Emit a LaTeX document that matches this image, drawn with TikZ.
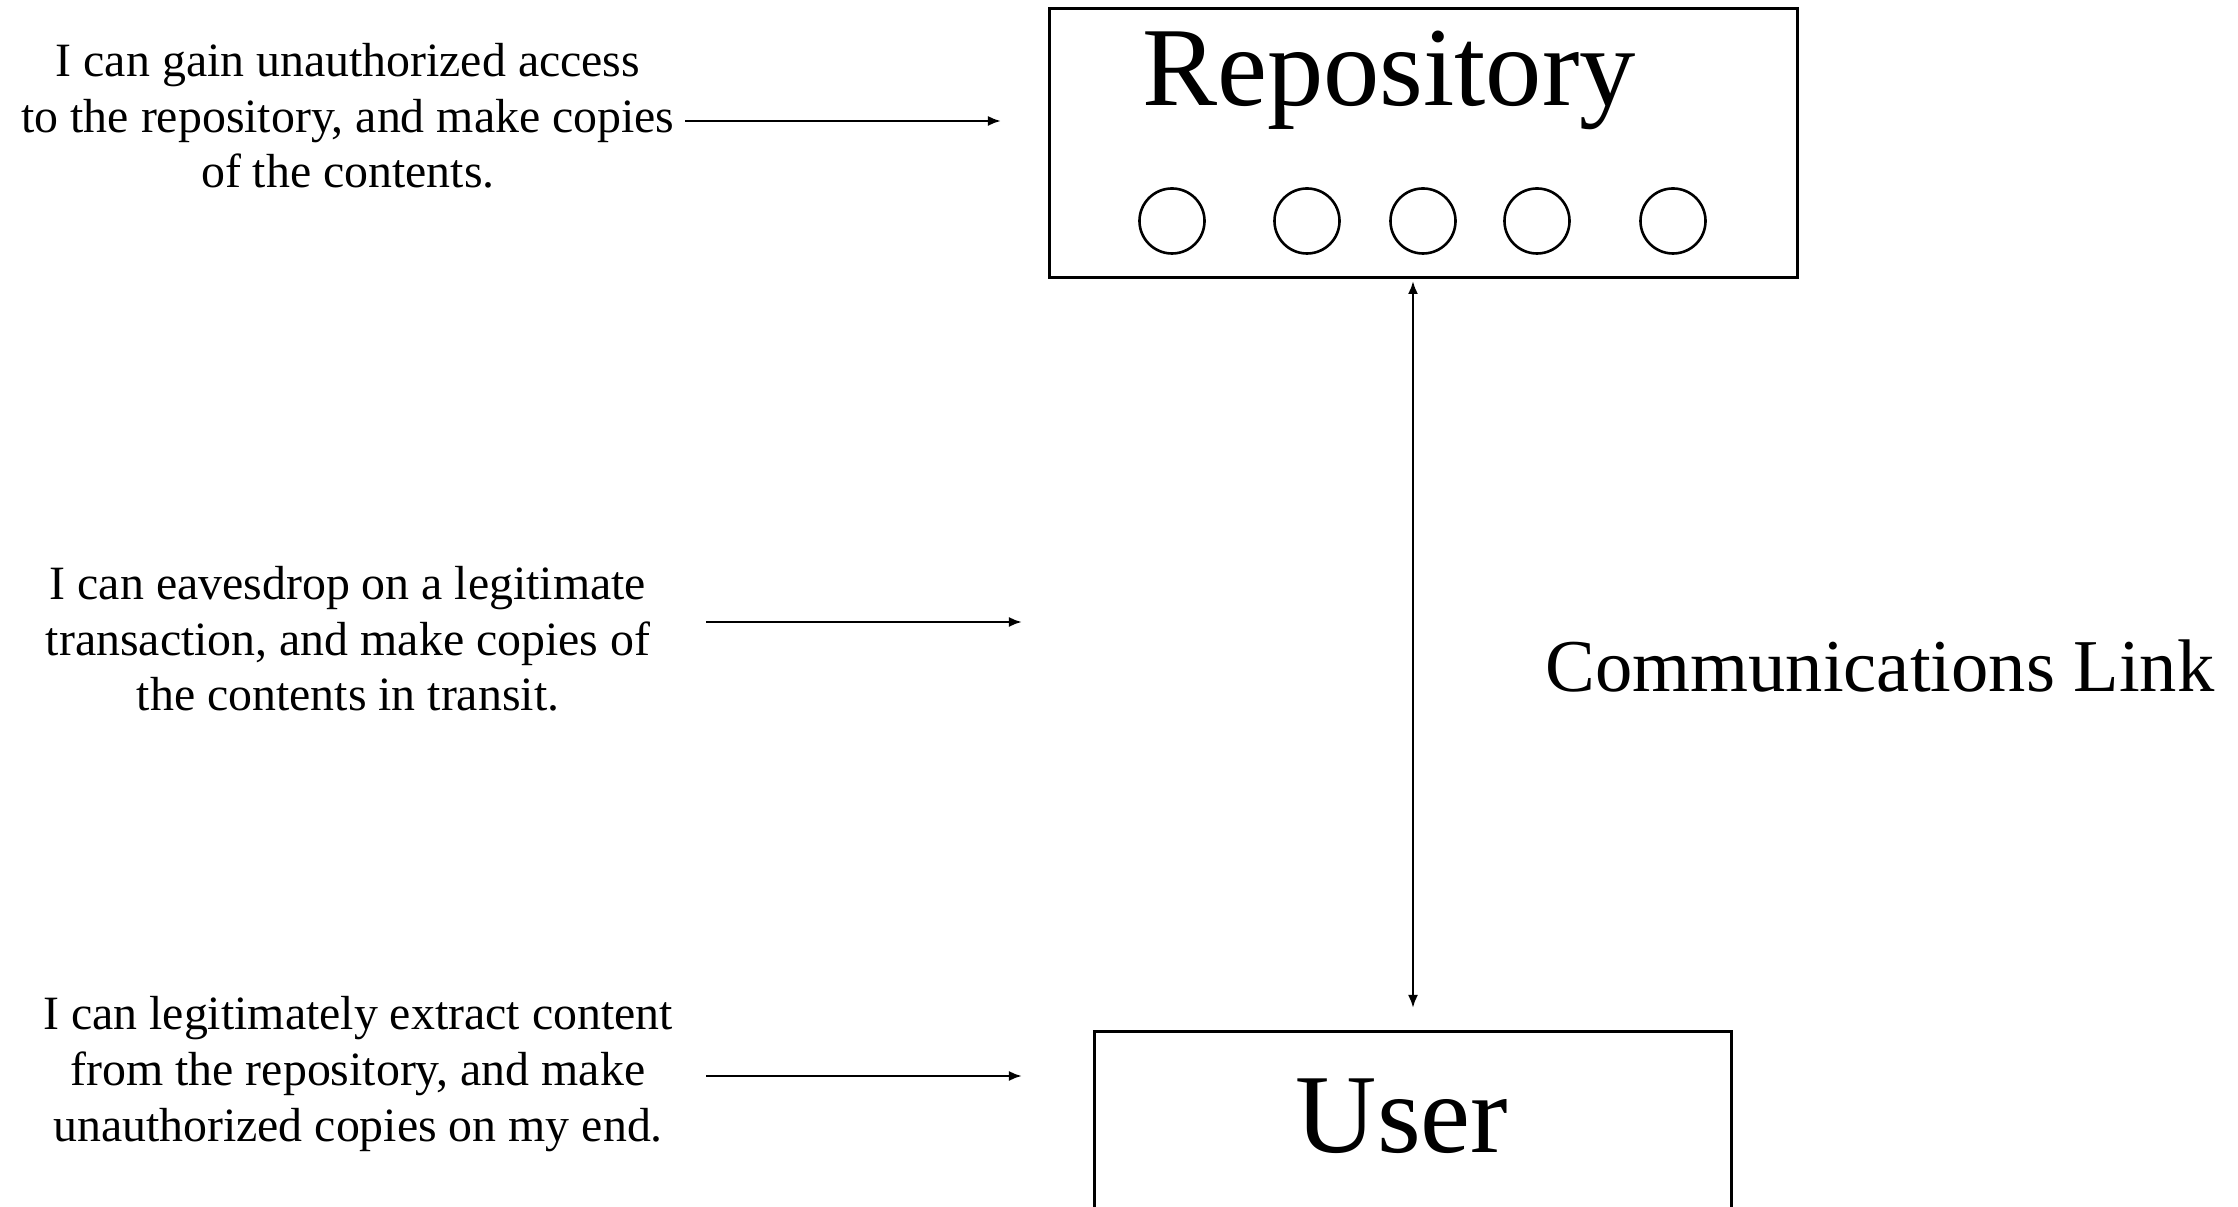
\documentclass[tikz,border=0pt]{standalone}
\usepackage{fontspec}
\setmainfont{Liberation Serif}
\usetikzlibrary{arrows.meta}
\tikzset{
  boxnode/.style={draw, line width=0.03cm, inner sep=0pt},
  slot/.style={draw, circle, line width=0.026cm, minimum size=0.65cm, inner sep=0pt},
  note/.style={align=center, font=\fontsize{13.6}{15.85}\selectfont, inner sep=0pt},
  bigtitle/.style={font=\fontsize{32}{38}\selectfont, inner sep=0pt, anchor=base},
  tip/.tip={Latex[length=0.13cm,width=0.1cm]},
  conn/.style={line width=0.024cm, -tip},
  dconn/.style={line width=0.024cm, tip-tip},
}
\begin{document}
\begin{tikzpicture}[x=0.01cm,y=-0.01cm]
\useasboundingbox (0,0) rectangle (2238,1207);
\fill[white] (0,0) rectangle (2238,1207);
\clip (0,0) rectangle (2238,1207);

% Repository
\node[boxnode, minimum width=7.47cm, minimum height=2.68cm] (repo) at (1423.5,143) {};
\node[bigtitle] (repotitle) at (1389,106) {Repository};
\node[slot] (c1) at (1172,221) {};
\node[slot] (c2) at (1307,221) {};
\node[slot] (c3) at (1423,221) {};
\node[slot] (c4) at (1537,221) {};
\node[slot] (c5) at (1673,221) {};

% User
\node[boxnode, minimum width=6.36cm, minimum height=2.6cm] (user) at (1413,1162) {};
\node[bigtitle] (usertitle) at (1402,1153) {User};

% Link
\node[font=\fontsize{21.2}{25}\selectfont, inner sep=0pt, anchor=base] (link) at (1880,692) {Communications Link};
\coordinate (ltop) at (1413,281);
\coordinate (lbot) at (1413,1008);
\draw[dconn] (ltop) -- (lbot);

% Notes
\node[note] (t1) at (348,116) {I can gain unauthorized access\\to the repository, and make copies\\of the contents.};
\coordinate (a1s) at (685,121);
\coordinate (a1e) at (1001,121);
\draw[conn] (a1s) -- (a1e);

\node[note] (t2) at (348,639) {I can eavesdrop on a legitimate\\transaction, and make copies of\\the contents in transit.};
\coordinate (a2s) at (706,622);
\coordinate (a2e) at (1022,622);
\draw[conn] (a2s) -- (a2e);

\node[note] (t3) at (358,1074) {I can legitimately extract content\\from the repository, and make\\unauthorized copies on my end.};
\coordinate (a3s) at (706,1076);
\coordinate (a3e) at (1022,1076);
\draw[conn] (a3s) -- (a3e);
\end{tikzpicture}
\end{document}
